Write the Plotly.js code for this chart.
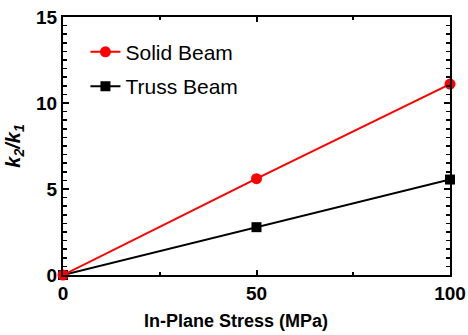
<!DOCTYPE html>
<html><head><meta charset="utf-8">
<script src="https://cdn.plot.ly/plotly-3.0.1.min.js"></script>
<style>html,body{margin:0;padding:0;background:#fff}#c{width:468px;height:335px}</style>
</head><body><div id="c"></div>
<script>
const stress = [0, 50, 100];
const solidBeam = [0, 5.6, 11.1];
const trussBeam = [0, 2.78, 5.55];
const seriesNames = ['Solid Beam', 'Truss Beam'];
const xTitle = '<b>In-Plane Stress (MPa)</b>';

const traces = [
  {x: stress, y: trussBeam, name: seriesNames[1], type: 'scatter', mode: 'lines+markers',
   line: {color: '#000000', width: 2}, marker: {symbol: 'square', size: 10, color: '#000000'},
   cliponaxis: false, legendgroup: 'b', legendrank: 2},
  {x: stress, y: solidBeam, name: seriesNames[0], type: 'scatter', mode: 'lines+markers',
   line: {color: '#ff0000', width: 2}, marker: {symbol: 'circle', size: 11, color: '#ff0000'},
   cliponaxis: false, legendgroup: 'a', legendrank: 1}
];

const fontFam = '"Liberation Sans", Arial, sans-serif';
const layout = {
  width: 468, height: 335,
  margin: {l: 63, r: 18, t: 17, b: 60},
  paper_bgcolor: '#fff', plot_bgcolor: '#fff',
  showlegend: true,
  legend: {x: 0.058, y: 0.943, xanchor: 'left', yanchor: 'top', bgcolor: 'rgba(0,0,0,0)',
    font: {family: fontFam, size: 21, color: '#000'}, traceorder: 'grouped', tracegroupgap: 4,
    itemwidth: 30},
  annotations: [{text: xTitle, xref: 'paper', yref: 'paper', x: 0.447, y: -0.178,
    xanchor: 'center', yanchor: 'middle', showarrow: false,
    font: {family: fontFam, size: 18, color: '#000'}}],
  xaxis: {
    range: [0, 100], tickvals: [0, 50, 100], ticktext: ['0', '50', '100'],
    ticks: 'inside', ticklen: 5, tickwidth: 2, tickcolor: '#000',
    minor: {tickvals: [25, 75], ticks: 'inside', ticklen: 3, tickwidth: 2, tickcolor: '#000'},
    showline: true, linewidth: 2, linecolor: '#000', mirror: 'ticks',
    showgrid: false, zeroline: false,
    tickfont: {family: fontFam, size: 19, color: '#000', weight: 'bold'}
  },
  yaxis: {
    range: [0, 15], tickvals: [0, 5, 10, 15],
    ticks: 'inside', ticklen: 6, tickwidth: 2, tickcolor: '#000',
    minor: {dtick: 0.5, ticks: 'inside', ticklen: 4, tickwidth: 1.5, tickcolor: '#000'},
    showline: true, linewidth: 2, linecolor: '#000', mirror: 'ticks',
    showgrid: false, zeroline: false,
    tickfont: {family: fontFam, size: 19, color: '#000', weight: 'bold'},
    title: {text: '<b><i>k<sub>2</sub>/k<sub>1</sub></i></b>', font: {family: fontFam, size: 20, color: '#000'}, standoff: 10}
  }
};
Plotly.newPlot('c', traces, layout, {displayModeBar: false, staticPlot: true});
</script></body></html>
